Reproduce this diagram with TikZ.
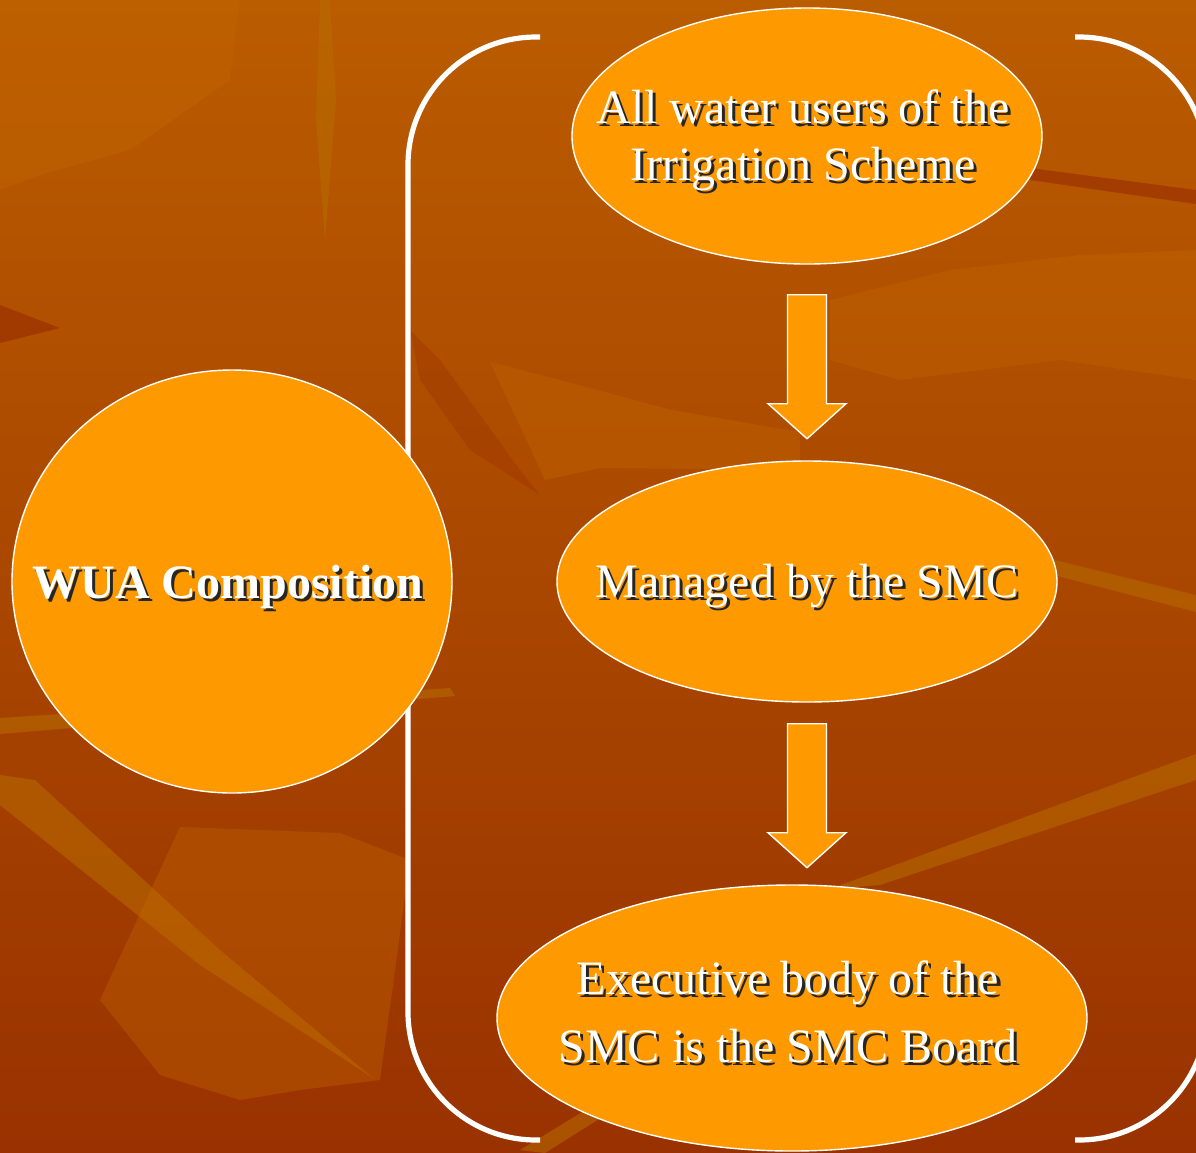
\documentclass[tikz,border=0pt]{standalone}
\usepackage{fontspec}
\setmainfont{Liberation Serif}
\usetikzlibrary{shapes.geometric}

\definecolor{bgtop}{RGB}{186,92,0}
\definecolor{bgbot}{RGB}{153,50,0}
\definecolor{bubblefill}{RGB}{255,153,0}
\definecolor{leaflight}{RGB}{196,104,0}
\definecolor{leafgold}{RGB}{184,108,0}
\definecolor{leafdark}{RGB}{150,44,0}

% white text with a black drop shadow
\newcommand\shd[1]{\leavevmode\rlap{\hspace{1.5pt}\raisebox{-1.5pt}{\color{black!85}#1}}#1}
% block arrow pointing down, hanging from a coordinate
\newcommand\downblock[1]{\draw[blockarrow] (#1) ++(-19.5,0) -- ++(0,109) -- ++(-19.5,0) -- ++(39,35) -- ++(39,-35) -- ++(-19.5,0) -- ++(0,-109) -- cycle;}

\begin{document}
\begin{tikzpicture}[x=0.5pt,y=-0.5pt,
  bubble/.style={ellipse,draw=white,line width=0.7pt,fill=bubblefill,inner sep=0pt},
  txt/.style={text=white,font=\fontsize{24}{28.5}\selectfont,align=center,inner sep=0pt},
  bracket/.style={draw=white,line width=2.6pt,rounded corners=64pt},
  blockarrow/.style={draw=white,line width=0.7pt,fill=bubblefill},
  leafL/.style={fill=leaflight,fill opacity=0.35},
  leafG/.style={fill=leafgold,fill opacity=0.55},
  leafD/.style={fill=leafdark,fill opacity=0.6}]
\useasboundingbox (0,0) rectangle (1196,1153);
\clip (0,0) rectangle (1196,1153);

% background
\shade[top color=bgtop,bottom color=bgbot] (0,0) rectangle (1196,1153);
\fill[leafL] (0,0) -- (240,0) -- (230,80) -- (130,150) -- (40,175) -- (0,190) -- cycle;
\fill[leafG] (320,0) -- (330,0) -- (336,100) -- (325,240) -- (316,120) -- cycle;
\fill[leafD] (0,305) -- (60,328) -- (0,343) -- cycle;
\fill[leafD,fill opacity=0.3] (410,330) -- (440,360) -- (520,470) -- (540,495) -- (470,450) -- (420,380) -- cycle;
\fill[leafL] (490,362) -- (560,380) -- (672,410) -- (800,432) -- (800,470) -- (600,468) -- (545,480) -- cycle;
\fill[leafL] (830,300) -- (950,270) -- (1080,255) -- (1196,250) -- (1196,380) -- (1060,360) -- (900,380) -- (830,360) -- cycle;
\fill[leafG] (0,718) -- (450,688) -- (455,696) -- (0,734) -- cycle;
\fill[leafG] (0,775) -- (35,780) -- (220,950) -- (373,1078) -- (200,965) -- (0,805) -- cycle;
\fill[leafL] (180,827) -- (340,833) -- (410,860) -- (380,1080) -- (300,1090) -- (240,1100) -- (160,1075) -- (100,1000) -- cycle;
\fill[leafG] (1055,560) -- (1196,595) -- (1196,612) -- (1050,574) -- cycle;
\fill[leafG] (830,889) -- (1196,754) -- (1196,780) -- (880,885) -- cycle;
\fill[leafD] (1030,168) -- (1196,190) -- (1196,204) -- (1030,180) -- cycle;
\fill[leafG] (520,1150) -- (700,1040) -- (712,1048) -- (545,1153) -- cycle;

% brackets
\draw[bracket] (540,37) -- (408,37) -- (408,1140) -- (540,1140);
\draw[bracket] (1075,37) -- (1207,37) -- (1207,1140) -- (1075,1140);

% bubbles
\node[bubble,minimum width=220pt,minimum height=211.5pt] (wua) at (232,581.5) {};
\node[bubble,minimum width=235pt,minimum height=128pt] (users) at (807,136) {};
\node[bubble,minimum width=250pt,minimum height=120.5pt] (managed) at (807,581.5) {};
\node[bubble,minimum width=295pt,minimum height=133pt] (board) at (792,1018) {};

% texts
\node[txt,font=\fontsize{24}{28.5}\selectfont\bfseries] (wuaText) at (228,588) {\shd{WUA Composition}};
\node[txt] (usersText) at (803,142) {\shd{All water users of the}\\\shd{Irrigation Scheme}};
\node[txt] (managedText) at (807,588) {\shd{Managed by the SMC}};
\node[txt,font=\fontsize{24}{34}\selectfont] (boardText) at (788,1013) {\shd{Executive body of the}\\\shd{SMC is the SMC Board}};

% arrows
\coordinate (arrowA) at ([yshift=-15pt]users.south);
\coordinate (arrowB) at ([yshift=-10.5pt]managed.south);
\downblock{arrowA}
\downblock{arrowB}

\end{tikzpicture}
\end{document}
